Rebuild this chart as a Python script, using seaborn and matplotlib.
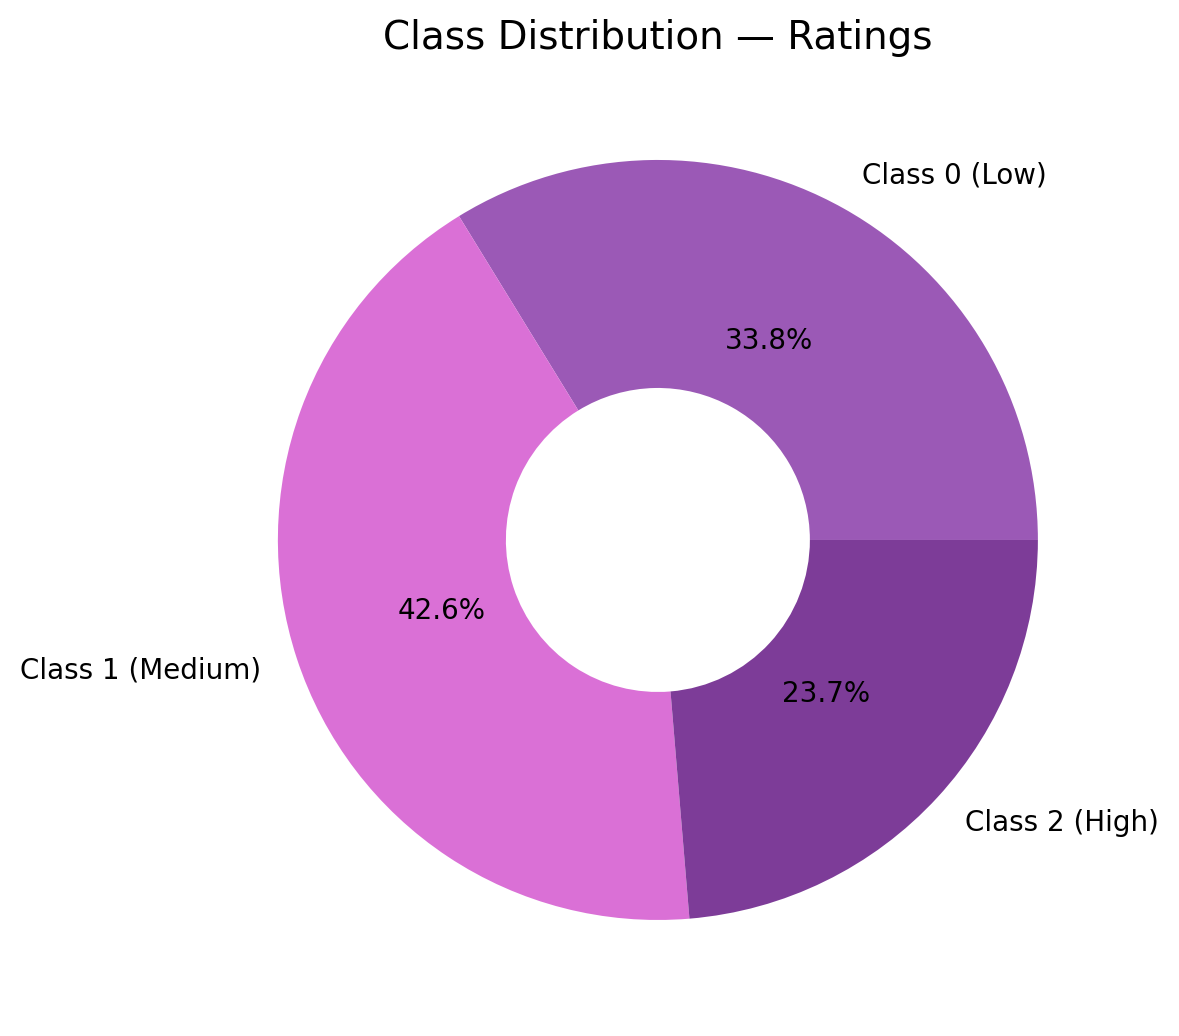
import matplotlib
matplotlib.use("Agg")
import matplotlib.pyplot as plt
import seaborn as sns

sns.set_style("white")
plt.rcParams["text.color"] = "black"

labels = ["Class 0 (Low)", "Class 1 (Medium)", "Class 2 (High)"]
shares = [33.8, 42.6, 23.7]
colors = ["#9b59b6", "#da70d6", "#7d3c98"]

fig = plt.figure(figsize=(5.895, 5.18), dpi=200)
ax = fig.add_axes([0.155, 0.0203, 0.806, 0.917])
ax.pie(shares, labels=labels, colors=colors, autopct="%1.1f%%",
       startangle=0, pctdistance=0.6,
       wedgeprops=dict(width=0.6, linewidth=0),
       textprops=dict(fontsize=10, color="black"))
ax.set_aspect("equal")
fig.text(0.558, 0.963, "Class Distribution — Ratings", fontsize=14,
         ha="center", va="center", color="black")
fig.savefig("out.png", dpi=200)
